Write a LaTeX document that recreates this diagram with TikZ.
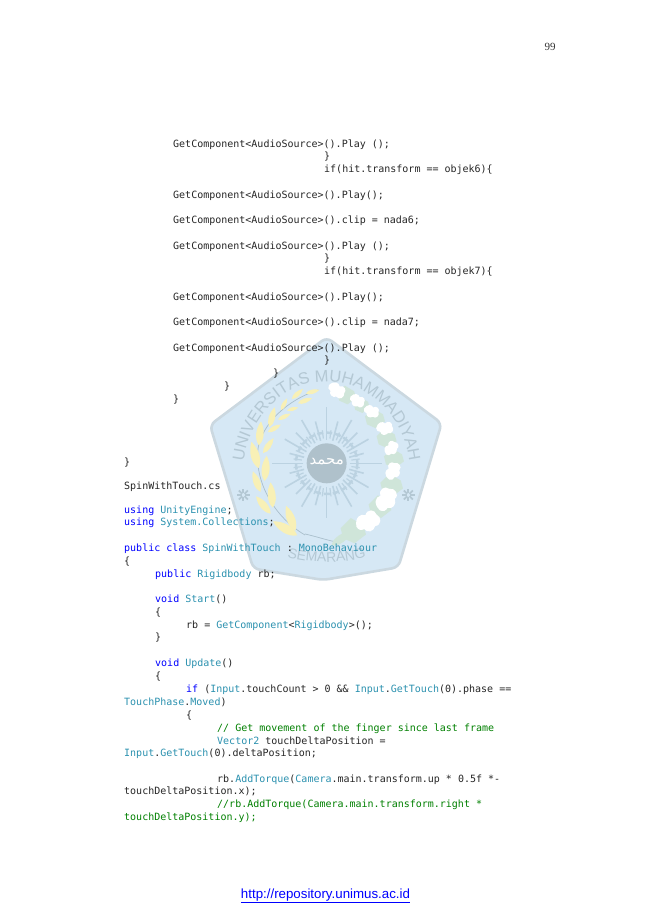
\documentclass[tikz,border=0pt]{standalone}
\usepackage{fontspec}
\setmonofont{DejaVu Sans Mono}
\setmainfont{Liberation Serif}
\setsansfont{Liberation Sans}
\newfontfamily\arabicfont[Script=Arabic]{DejaVu Sans}
\TeXXeTstate=1
\usetikzlibrary{decorations.text}
\definecolor{kw}{HTML}{0000FF}
\definecolor{ty}{HTML}{2B91AF}
\definecolor{cm}{HTML}{008000}
\definecolor{shieldfill}{HTML}{D6E8F5}
\definecolor{shieldedge}{HTML}{CBD8E0}
\definecolor{logotext}{HTML}{B4C8D4}
\definecolor{raycol}{HTML}{BBD2E1}
\definecolor{stemcol}{HTML}{A9BFCC}
\definecolor{grain}{HTML}{F8F0B6}
\definecolor{jleaf}{HTML}{CFE5D9}
\newcommand{\K}[1]{\textcolor{kw}{#1}}
\newcommand{\T}[1]{\textcolor{ty}{#1}}
\newcommand{\C}[1]{\textcolor{cm}{#1}}
\tikzset{
  codeline/.style={anchor=base west,inner sep=0pt,font=\ttfamily\fontsize{10}{12}\selectfont,text=black!85},
}
\newcommand{\code}[4]{\node[codeline] (#1) at (#2,#3+3) {#4};}
\newcommand{\leaf}[5][grain]{\fill[#1,shift={(#2,#3)},rotate=#4] ({-#5/2},0) .. controls ({-#5/4},{#5*.22}) and ({#5/6},{#5*.2}) .. ({#5/2},0) .. controls ({#5/6},{-#5*.2}) and ({-#5/4},{-#5*.22}) .. ({-#5/2},0) -- cycle;}
\newcommand{\jasm}[4]{\fill[white,shift={(#1,#2)},rotate=#4] (-#3,-#3*.2) .. controls (-#3*.7,-#3*.9) and (-#3*.1,-#3*.9) .. (#3*.1,-#3*.55) .. controls (#3*.5,-#3*.9) and (#3,-#3*.5) .. (#3*.85,-#3*.1) .. controls (#3*1.1,#3*.3) and (#3*.7,#3*.85) .. (#3*.25,#3*.6) .. controls (-#3*.1,#3*.9) and (-#3*.6,#3*.7) .. (-#3*.6,#3*.3) .. controls (-#3*.9,#3*.25) and (-#3,#3*.1) .. (-#3,-#3*.2) -- cycle;}
\begin{document}
\begin{tikzpicture}[x=1pt,y=-1pt]
\useasboundingbox (0,0) rectangle (650,919);
\fill[white] (0,0) rectangle (650,919);
% ---- watermark logo (coordinates of the 3x crop)
\begin{scope}[shift={(190,340)},x=0.3333pt,y=-0.3333pt]
  \filldraw[fill=shieldfill,draw=shieldedge,line width=2.6pt,rounded corners=6pt]
    (410,-8) -- (755,250) -- (625,682) -- (400,720) -- (190,686) -- (60,255) -- cycle;
  % rays
  \foreach \a/\r in {0/165,15/115,30/145,45/130,60/150,75/130,90/165,105/130,120/150,135/130,150/145,165/115,180/165,195/115,210/145,225/130,240/150,255/130,270/170,285/130,300/150,315/130,330/145,345/115}
    \draw[raycol,line width=1.6pt] ({410+70*cos(\a)},{370+70*sin(\a)}) -- ({410+\r*cos(\a)},{370+\r*sin(\a)});
  \foreach \a in {7.5,22.5,...,352.5}
    \draw[raycol,line width=1.2pt] ({410+75*cos(\a)},{370+75*sin(\a)}) -- ({410+100*cos(\a)},{370+100*sin(\a)});
  \draw[raycol,line width=2.5pt,dash pattern=on 6pt off 3pt] (410,370) circle (92);
  \fill[logotext!90!gray] (410,370) circle (60);
  \node[text=white,inner sep=0pt,font=\arabicfont\fontsize{15}{15}\selectfont] (nameinseal) at (410,366) {\beginR محمد\endR};
  % stars
  \foreach \sx in {160,655}
    \foreach \a in {0,45,...,315}
      \draw[logotext,line width=1.8pt] ({\sx+5*cos(\a)},{465+5*sin(\a)}) -- ({\sx+19*cos(\a)},{465+19*sin(\a)});
  % wheat stem and leaves
  \draw[stemcol,line width=.7pt] (345,585) .. controls (250,530) and (190,420) .. (205,320) .. controls (220,250) and (290,180) .. (385,150);
  \leaf{368}{155}{15}{42}\leaf{345}{182}{20}{45}\leaf{322}{162}{42}{45}\leaf{308}{207}{15}{35}\leaf{282}{193}{62}{40}\leaf{283}{230}{25}{42}\leaf{246}{232}{75}{62}\leaf{253}{265}{30}{45}\leaf{210}{280}{85}{72}\leaf{235}{317}{55}{55}\leaf{195}{345}{105}{82}\leaf{227}{385}{85}{76}\leaf{200}{425}{110}{66}\leaf{245}{465}{95}{76}\leaf{220}{495}{130}{68}\leaf{302}{535}{110}{80}\leaf{285}{565}{150}{84}
  % jasmine
  \draw[stemcol,line width=.7pt] (345,582) .. controls (380,590) and (410,600) .. (430,604);
  \draw[jleaf,line width=1.2pt] (430,604) .. controls (480,590) and (520,565) .. (560,520);
  \foreach \x/\y/\s in {470/165/28,515/195/24,555/235/30,590/295/30,612/355/30,605/435/34,570/500/34,490/572/38}
    \fill[jleaf,shift={(\x,\y)}] (-\s,-\s*.2) -- (-\s*.2,-\s) -- (\s*.8,-\s*.4) -- (\s,\s*.3) -- (\s*.1,\s) -- (-\s*.8,\s*.6) -- cycle;
  \leaf[jleaf]{455}{595}{35}{75}
  \jasm{440}{152}{28}{-25}\jasm{502}{183}{24}{-20}\jasm{545}{215}{24}{-10}\jasm{585}{265}{26}{10}\jasm{605}{325}{24}{60}\jasm{610}{393}{28}{75}\jasm{590}{478}{38}{70}\jasm{535}{545}{38}{35}
  % arc lettering
  \path[postaction={decorate},decoration={text along path,text align={align=center},
     text={|\sffamily\fontsize{16.5}{17}\selectfont\color{logotext}|UNIVERSITAS MUHAMMADIYAH}}]
     (160,385) arc[start angle=183,end angle=357,x radius=250,y radius=275];
  \path[postaction={decorate},decoration={text along path,text align={align=center},
     text={|\sffamily\fontsize{14}{14}\selectfont\color{logotext}|SEMARANG}}]
     (205,610) .. controls (300,685) and (520,685) .. (615,610);
\end{scope}
% ---- page number and link
\node[inner sep=0pt,font=\rmfamily\fontsize{11}{13}\selectfont,text=black!80] (pagenum) at (550,47) {99};
\node[inner sep=0pt,font=\sffamily\fontsize{13.3}{15}\selectfont,text=kw] (repolink) at (325.5,896) {\underline{http://repository.unimus.ac.id}};
% ---- code
\code{l1}{173}{144}{GetComponent<AudioSource>().Play ();}
\code{l2}{324}{156}{\}}
\code{l3}{324}{169}{if(hit.transform == objek6)\{}
\code{l4}{173}{195}{GetComponent<AudioSource>().Play();}
\code{l5}{173}{220}{GetComponent<AudioSource>().clip = nada6;}
\code{l6}{173}{246}{GetComponent<AudioSource>().Play ();}
\code{l7}{324}{258}{\}}
\code{l8}{324}{271}{if(hit.transform == objek7)\{}
\code{l9}{173}{297}{GetComponent<AudioSource>().Play();}
\code{l10}{173}{322}{GetComponent<AudioSource>().clip = nada7;}
\code{l11}{173}{348}{GetComponent<AudioSource>().Play ();}
\code{l12}{324}{360}{\}}
\code{l13}{273}{373}{\}}
\code{l14}{224}{386}{\}}
\code{l15}{173}{399}{\}}
\code{l16}{124}{462}{\}}
\code{l17}{124}{486}{SpinWithTouch.cs}
\code{l18}{124}{510}{\K{using} \T{UnityEngine};}
\code{l19}{124}{522}{\K{using} \T{System.Collections};}
\code{l20}{124}{548}{\K{public class} \T{SpinWithTouch} : \T{MonoBehaviour}}
\code{l21}{124}{561}{\{}
\code{l22}{155}{574}{\K{public} \T{Rigidbody} rb;}
\code{l23}{155}{599}{\K{void} \T{Start}()}
\code{l24}{155}{612}{\{}
\code{l25}{186}{625}{rb = \T{GetComponent}<\T{Rigidbody}>();}
\code{l26}{155}{637}{\}}
\code{l27}{155}{663}{\K{void} \T{Update}()}
\code{l28}{155}{676}{\{}
\code{l29}{186}{689}{\K{if} (\T{Input}.touchCount > 0 \&\& \T{Input}.\T{GetTouch}(0).phase ==}
\code{l30}{124}{702}{\T{TouchPhase}.\T{Moved})}
\code{l31}{186}{715}{\{}
\code{l32}{217}{728}{\C{// Get movement of the finger since last frame}}
\code{l33}{217}{741}{\T{Vector2} touchDeltaPosition =}
\code{l34}{124}{753}{\T{Input}.\T{GetTouch}(0).deltaPosition;}
\code{l35}{217}{779}{rb.\T{AddTorque}(\T{Camera}.main.transform.up * 0.5f *-}
\code{l36}{124}{791}{touchDeltaPosition.x);}
\code{l37}{217}{804}{\C{//rb.AddTorque(Camera.main.transform.right *}}
\code{l38}{124}{817}{\C{touchDeltaPosition.y);}}
\end{tikzpicture}
\end{document}
